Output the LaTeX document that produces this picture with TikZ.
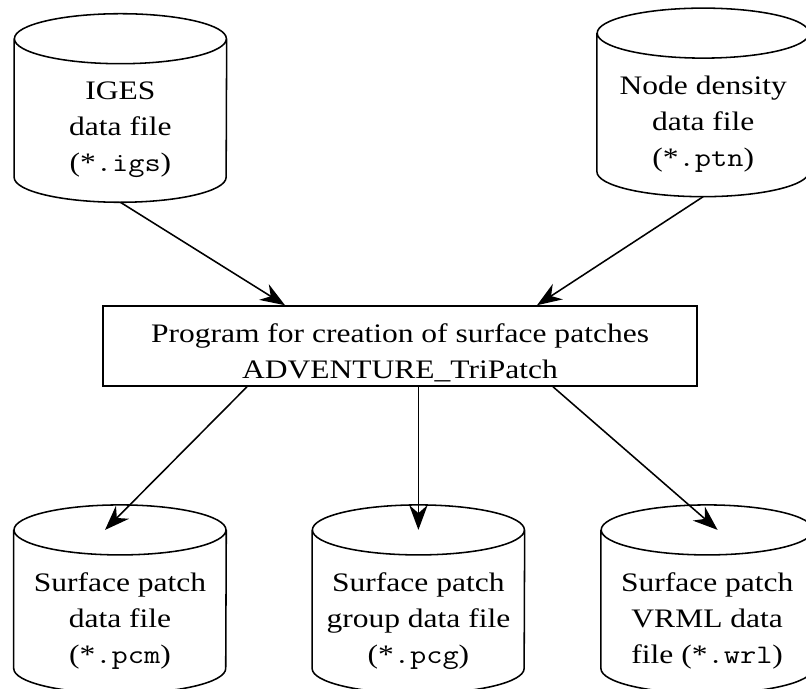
\documentclass[tikz,border=0pt]{standalone}
\usepackage{fontspec}
\setmainfont[FakeStretch=1.18]{Liberation Serif}
\setmonofont[FakeStretch=1.18]{Latin Modern Mono}
\usetikzlibrary{positioning,arrows.meta,shapes.geometric,calc}
\newcommand{\dbgap}{\rule{0pt}{44pt}}
\newcommand{\prgap}{\rule{0pt}{23pt}}

\begin{document}
\begin{tikzpicture}[font=\fontsize{19}{25.6}\selectfont]
\tikzset{
  DB/.style={rectangle,minimum width=5.3cm,minimum height=4.7cm,inner sep=0pt,align=center,
    append after command={\pgfextra{
      \draw[line width=1.1pt]
        ([yshift=-0.625cm]\tikzlastnode.north west)--([yshift=0.625cm]\tikzlastnode.south west)
        arc[start angle=180,end angle=360,x radius=2.65cm,y radius=0.625cm]
        --([yshift=-0.625cm]\tikzlastnode.north east)
        ([yshift=-0.625cm]\tikzlastnode.north) ellipse[x radius=2.65cm,y radius=0.625cm];}}},
  PR/.style={draw,line width=1.1pt,rectangle,minimum width=14.85cm,minimum height=2.0cm,align=center,inner sep=2pt},
  FL/.style={-{Stealth[length=0.62cm,width=0.46cm,inset=0.2cm]},line width=1.1pt},
}
\useasboundingbox (0,0) rectangle (20.15,17.2);

\node[DB](iges) at ( 3.01,14.50){\dbgap IGES\\data file\\(*\texttt{.igs})};
\node[DB](ptn)  at (17.58,14.64){\dbgap Node density\\data file\\(*\texttt{.ptn})};

\node[PR](prog) at (10.00, 8.55){\prgap Program for creation of surface patches\\ADVENTURE\_TriPatch};

\node[DB](pcm) at ( 3.00, 2.22){\dbgap Surface patch\\data file\\(*\texttt{.pcm})};
\node[DB](pcg) at (10.46, 2.22){\dbgap Surface patch\\group data file\\(*\texttt{.pcg})};
\node[DB](wrl) at (17.68, 2.22){\dbgap Surface patch\\VRML data\\file (*\texttt{.wrl})};

\draw[FL](iges.south)--($(prog.north)+(-2.875,0)$);
\draw[FL](ptn.south)--($(prog.north)+(3.425,0)$);

\draw[FL]($(prog.south)+(-3.825,0)$)--($(pcm.north)+(-0.375,-0.625)$);
\draw[FL](prog.south -| pcg.north)--($(pcg.north)+(0,-0.625)$);
\draw[FL]($(prog.south)+(3.825,0)$)--($(wrl.north)+(0.26,-0.625)$);

\end{tikzpicture}
\end{document}
